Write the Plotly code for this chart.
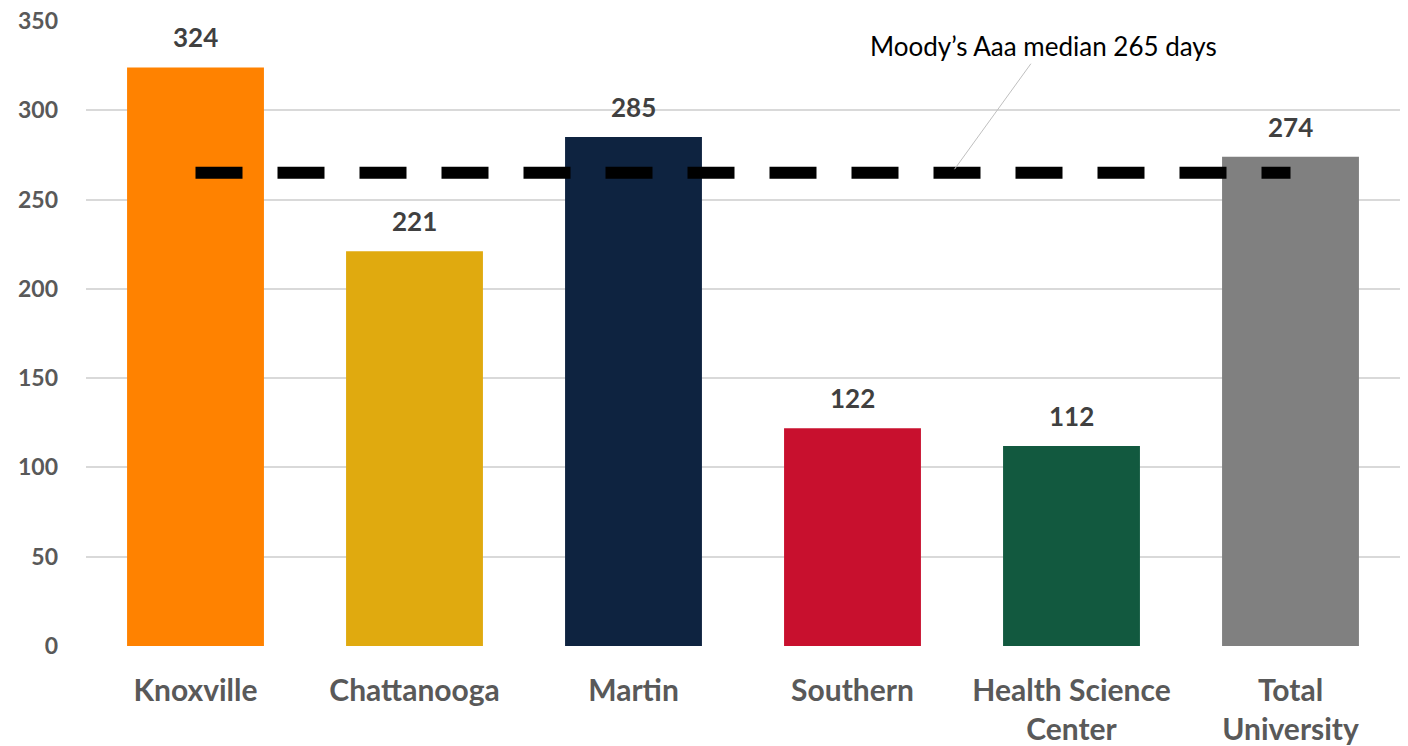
import plotly.graph_objects as go

categories = ["Knoxville", "Chattanooga", "Martin", "Southern", "Health Science<br>Center", "Total<br>University"]
values = [324, 221, 285, 122, 112, 274]
colors = ["#FF8200", "#E0AA0F", "#0E2340", "#C8102E", "#12593F", "#808080"]
median_value = 265
median_label = "Moody’s Aaa median 265 days"
y_ticks = [0, 50, 100, 150, 200, 250, 300, 350]

FONT = "Lato"

fig = go.Figure()
fig.add_trace(go.Bar(
    x=categories, y=values, marker=dict(color=colors, line=dict(width=0)),
    showlegend=False, hoverinfo="skip",
))
fig.add_trace(go.Scatter(
    x=categories, y=[median_value] * len(categories), mode="lines",
    line=dict(color="black", width=12, dash="47px,35px"),
    showlegend=False, hoverinfo="skip",
))
for c, v in zip(categories, values):
    fig.add_annotation(
        x=c, y=v, text=str(v), showarrow=False, yanchor="middle", yshift=30,
        font=dict(family=FONT, size=26, color="#404040", weight="bold"),
    )
fig.add_annotation(
    x=0.661, xref="paper", y=median_value + 2, yref="y",
    text=median_label, showarrow=True, arrowhead=0, arrowwidth=1,
    arrowcolor="#BFBFBF", ax=89, ay=-123,
    font=dict(family=FONT, size=26, color="black"),
)
fig.update_layout(
    width=1408, height=746,
    margin=dict(l=86, r=8, t=21, b=100),
    paper_bgcolor="white", plot_bgcolor="white",
    bargap=0.375,
    font=dict(family=FONT),
)
fig.update_yaxes(
    range=[0, 350], tickvals=y_ticks, showgrid=True, gridcolor="#D9D9D9", gridwidth=2,
    zeroline=False, showline=False, ticks="", ticklabelstandoff=27, automargin=False,
    tickfont=dict(family=FONT, size=23, color="#595959", weight="bold"),
)
fig.update_xaxes(
    showgrid=False, showline=False, ticks="", ticklabelstandoff=24, automargin=False,
    tickfont=dict(family=FONT, size=30, color="#595959", weight="bold"),
)
fig.write_html("out.html")
